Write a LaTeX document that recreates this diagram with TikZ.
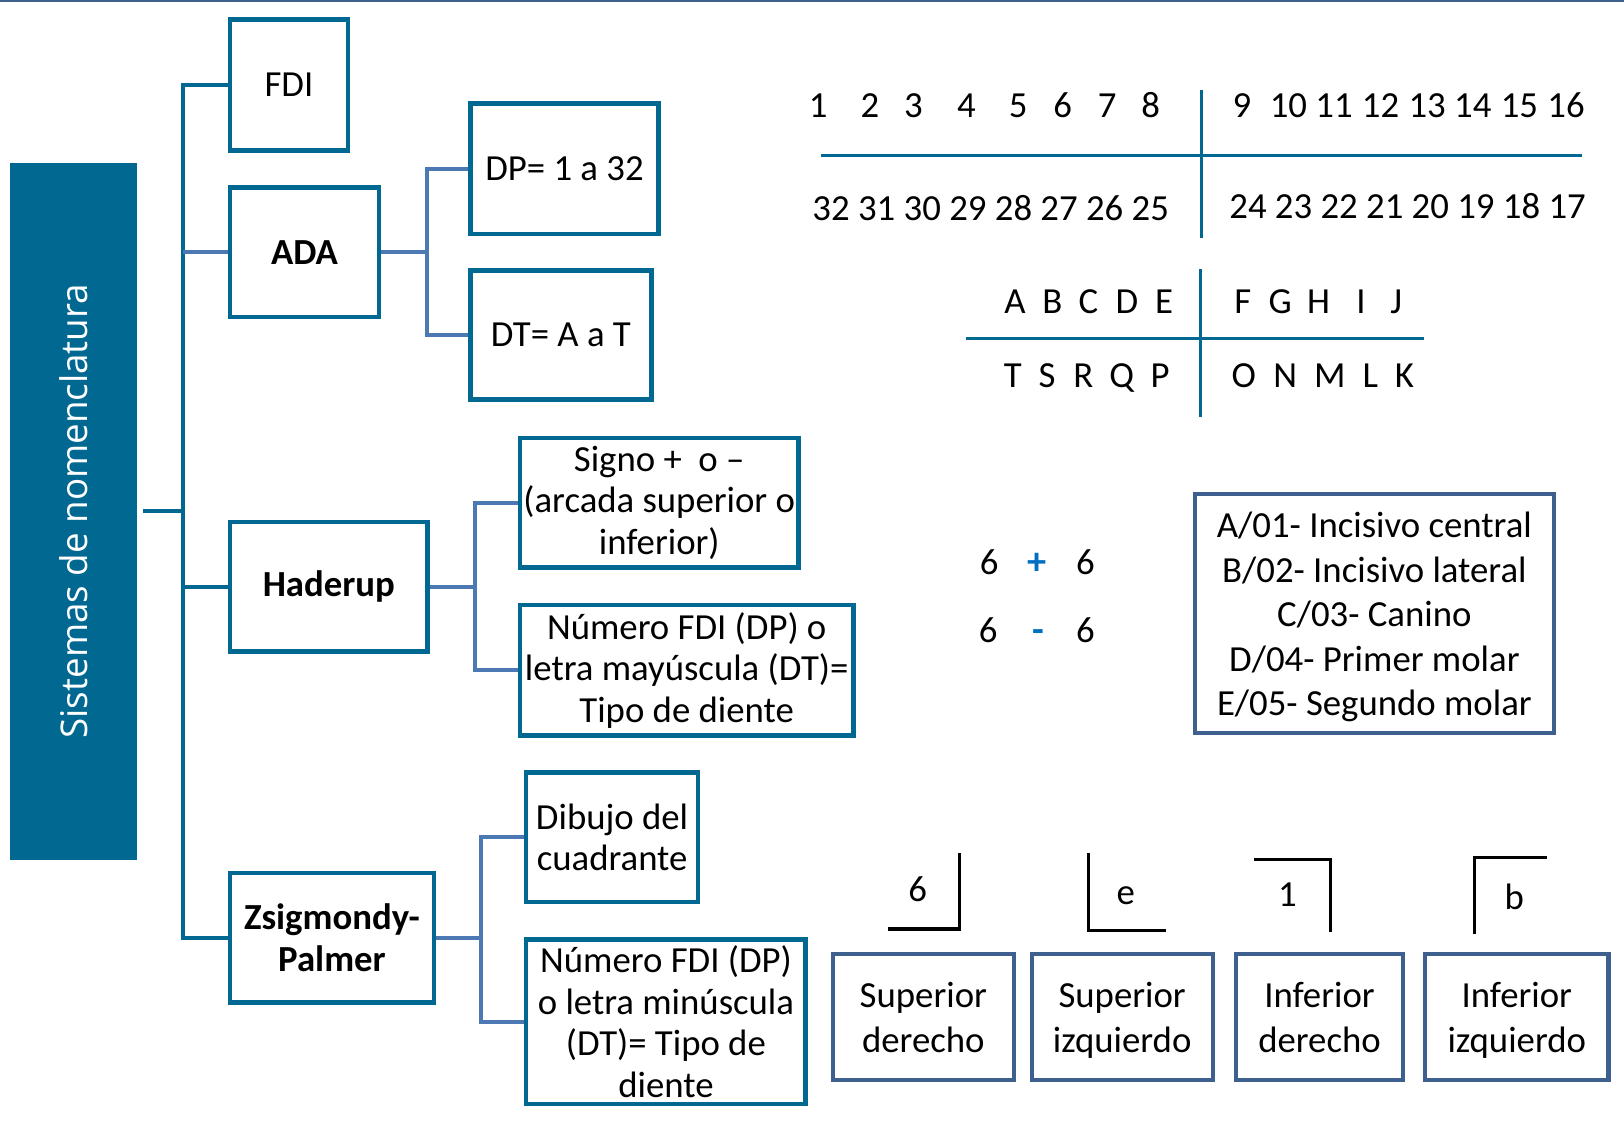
\documentclass[tikz,border=0pt]{standalone}
\usepackage{fontspec}
\setmainfont{Carlito}
\newfontfamily\titlefont{Open Sans}
\definecolor{nomteal}{RGB}{0,104,145}
\definecolor{nomlink}{RGB}{76,120,180}
\definecolor{nomslate}{RGB}{62,96,142}
\definecolor{nomsign}{RGB}{0,112,192}
\begin{document}
\begin{tikzpicture}[
  x=1pt, y=-1pt,
  every node/.style={font=\fontsize{35.5}{40}\selectfont, inner sep=0pt},
  boxsize/.style 2 args={minimum width=#1, minimum height=#2},
  sysbox/.style={draw=nomteal, line width=4.5pt, align=center},
  quadbox/.style={draw=nomslate, line width=4pt, align=center,
    font=\fontsize{35.5}{43}\selectfont, text height=68pt, text depth=0pt},
  trunk/.style={draw=nomteal, line width=4pt},
  branch/.style={draw=nomlink, line width=4pt},
  chartline/.style={draw=nomteal, line width=3.5pt},
  chartlabel/.style={text height=23pt, text depth=0pt},
  bracket/.style={draw=black, line width=3pt},
]
\useasboundingbox (0,0) rectangle (1568,1092);
\draw[nomslate, line width=2pt] (0,1) -- (1568,1);

% main tree
\node[fill=nomteal, boxsize={122}{673}] (sist) at (71,493.5) {};
\node[rotate=90, text=white, font=\titlefont\fontsize{35.5}{40}\selectfont] (sisttext) at (sist.center) {Sistemas de nomenclatura};
\node[sysbox, boxsize={114}{126}] (fdi) at (279,82) {FDI};
\node[sysbox, boxsize={144}{125}, font=\fontsize{35.5}{40}\selectfont\bfseries] (ada) at (294,243.5) {ADA};
\node[sysbox, boxsize={191}{125}, font=\fontsize{35.5}{40}\selectfont\bfseries] (hader) at (317.5,566.5) {Haderup};
\node[sysbox, boxsize={197}{125}, font=\fontsize{35.5}{40}\selectfont\bfseries] (zsig) at (320.5,905.5) {Zsigmondy-\\Palmer};

\node[sysbox, boxsize={182}{126}] (dp) at (545,163) {DP= 1 a 32};
\node[sysbox, boxsize={175}{125}] (dt) at (541.5,323.5) {DT= A a T};
\node[sysbox, boxsize={269}{125}] (signo) at (636.5,485.5) {Signo +~~o --\\(arcada superior o\\inferior)};
\node[sysbox, boxsize={322}{126}] (nummay) at (663,647) {Número FDI (DP) o\\letra mayúscula (DT)=\\Tipo de diente};
\node[sysbox, boxsize={166}{125}] (dibujo) at (591,808.5) {Dibujo del\\cuadrante};
\node[sysbox, boxsize={270}{159}] (nummin) at (643,986.5) {Número FDI (DP)\\o letra minúscula\\(DT)= Tipo de\\diente};

\coordinate (spine) at (177,0);
\draw[trunk] ([xshift=6pt]sist.east) -- (spine |- sist.east);
\draw[trunk] (fdi.west) -| (spine |- zsig.west) -- (zsig.west);
\draw[branch] (ada.west) -- (spine |- ada.west);
\draw[trunk] (hader.west) -- (spine |- hader.west);

\draw[branch] (ada.east) -- ++(44,0) coordinate (adafork);
\draw[branch] (dp.west) -| (adafork) |- (dt.west);
\draw[branch] (hader.east) -- ++(43,0) coordinate (haderfork);
\draw[branch] (signo.west) -| (haderfork) |- (nummay.west);
\draw[branch] (zsig.east) -- ++(43,0) coordinate (zsigfork);
\draw[branch] (dibujo.west) -| (zsigfork) |- (nummin.west);

% FDI number chart
\foreach \x/\n in {790/1, 840/2, 882/3, 933/4, 983/5, 1026/6, 1069/7, 1111/8,
                   1199/9, 1244/10, 1288/11, 1333/12, 1378/13, 1422/14, 1467/15, 1512/16}
  \node[chartlabel] (up\n) at (\x,102) {\n};
\node[chartlabel] (lowleft) at (956.5,201) {32 31 30 29 28 27 26 25};
\node[chartlabel] (lowright) at (1359,199) {24 23 22 21 20 19 18 17};
\draw[chartline] (793,150) coordinate (numw) -- (1527,150) coordinate (nume);
\draw[chartline] (1160,87) coordinate (numn) -- (1160,230) coordinate (nums);

% ADA letter chart
\foreach \x/\l in {980/A, 1016/B, 1051/C, 1088/D, 1124/E,
                   1200/F, 1236/G, 1273/H, 1314/I, 1348/J}
  \node[chartlabel] (let\l) at (\x,291) {\l};
\foreach \x/\l in {978/T, 1011/S, 1046/R, 1083/Q, 1120/P,
                   1201/O, 1241/N, 1284/M, 1323/L, 1356/K}
  \node[chartlabel] (let\l) at (\x,363) {\l};
\draw[chartline] (933,327) coordinate (letw) -- (1375,327) coordinate (lete);
\draw[chartline] (1159,260) coordinate (letn) -- (1159,403) coordinate (lets);

% Haderup signs
\node[chartlabel] (plusl) at (955,543) {6};
\node[chartlabel, text=nomsign, font=\fontsize{37}{40}\selectfont\bfseries] (plus) at (1001,543) {+};
\node[chartlabel] (plusr) at (1048,543) {6};
\node[chartlabel] (minusl) at (954,609) {6};
\node[chartlabel, text=nomsign, font=\fontsize{37}{40}\selectfont\bfseries] (minus) at (1003,609) {-};
\node[chartlabel] (minusr) at (1048,609) {6};

\node[quadbox, boxsize={346}{231}, text height=197pt] (legend) at (1327,592.5)
  {A/01- Incisivo central\\B/02- Incisivo lateral\\C/03- Canino\\D/04- Primer molar\\E/05- Segundo molar};

% Zsigmondy-Palmer quadrants
\node[anchor=base] (qsd) at (886,870.5) {6};
\draw[bracket] (857,897) -- (926,897) -- (926,824);
\node[anchor=base] (qsi) at (1087,873) {e};
\draw[bracket] (1051,824) -- (1051,898) -- (1126,898);
\node[anchor=base] (qid) at (1243,875.5) {1};
\draw[bracket] (1211,830) -- (1285,830) -- (1285,900);
\node[anchor=base] (qii) at (1462,878.5) {b};
\draw[bracket] (1424,902) -- (1424,828) -- (1494,828);

\node[quadbox, boxsize={175}{122}] (supder) at (891.5,982) {Superior\\derecho};
\node[quadbox, boxsize={175}{122}] (supizq) at (1083.5,982) {Superior\\izquierdo};
\node[quadbox, boxsize={162}{122}] (infder) at (1274,982) {Inferior\\derecho};
\node[quadbox, boxsize={177}{122}] (infizq) at (1464.5,982) {Inferior\\izquierdo};
\end{tikzpicture}
\end{document}
